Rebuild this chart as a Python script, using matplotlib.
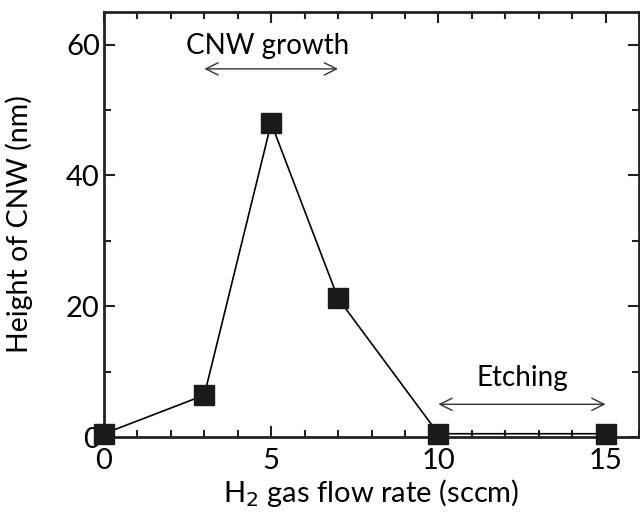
import matplotlib.pyplot as plt
from matplotlib.ticker import MultipleLocator

plt.rcParams['font.family'] = ['Lato', 'DejaVu Sans']

# H2 flow rate (sccm) vs. CNW height (nm)
flow_rate = [0, 3, 5, 7, 10, 15]
height = [0.5, 6.4, 48.0, 21.2, 0.5, 0.5]

fig = plt.figure(figsize=(6.4, 5.25), dpi=100)
ax = fig.add_axes([104 / 640, (525 - 437) / 525, (639 - 104) / 640, (437 - 12) / 525])

ax.plot(flow_rate, height, color='black', linewidth=1.2, marker='s',
        markersize=14, markerfacecolor='#1a1a1a', markeredgecolor='#1a1a1a',
        clip_on=False, zorder=3)

ax.set_xlim(0, 16)
ax.set_ylim(0, 65)
ax.xaxis.set_major_locator(MultipleLocator(5))
ax.xaxis.set_minor_locator(MultipleLocator(1))
ax.yaxis.set_major_locator(MultipleLocator(20))
ax.yaxis.set_minor_locator(MultipleLocator(10))
ax.tick_params(which='both', direction='in', top=True, right=True,
               labelsize=21, width=1.5, color='#222222')
ax.tick_params(axis='x', pad=8)
ax.tick_params(axis='y', pad=3)
ax.tick_params(which='major', length=8)
ax.tick_params(which='minor', length=5)
for side in ax.spines.values():
    side.set_linewidth(2)
    side.set_color('#222222')

ax.set_xlabel('H$_2$ gas flow rate (sccm)', fontsize=21, labelpad=2)
ax.set_ylabel('Height of CNW (nm)', fontsize=20.5, labelpad=24)

# regime annotations
ax.text(4.9, 59.8, 'CNW growth', fontsize=20, ha='center', va='center')
ax.annotate('', xy=(3, 56.3), xytext=(7, 56.3),
            arrowprops=dict(arrowstyle='<->', color='#333333', lw=1.0,
                            mutation_scale=22, shrinkA=0, shrinkB=0))
ax.text(12.5, 9.0, 'Etching', fontsize=20, ha='center', va='center')
ax.annotate('', xy=(10, 5.0), xytext=(15, 5.0),
            arrowprops=dict(arrowstyle='<->', color='#333333', lw=1.0,
                            mutation_scale=22, shrinkA=0, shrinkB=0))

fig.savefig('out.png', dpi=100)
